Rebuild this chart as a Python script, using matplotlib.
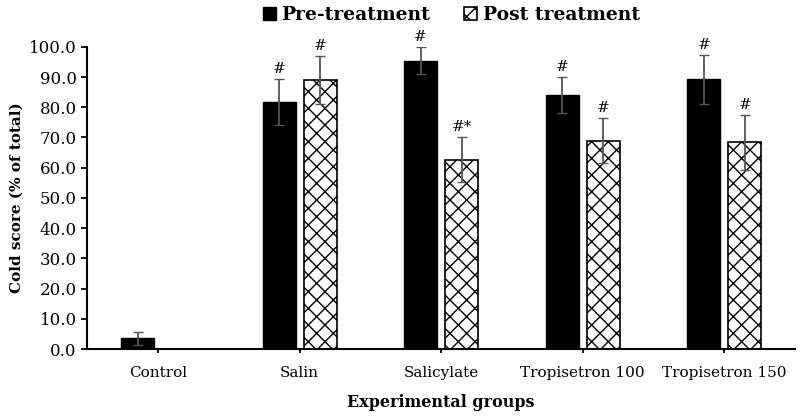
import matplotlib.pyplot as plt
import numpy as np

plt.rcParams['font.family'] = ['DejaVu Serif']

groups = ['Control', 'Salin', 'Salicylate', 'Tropisetron 100', 'Tropisetron 150']
pre = np.array([3.5, 81.7, 95.4, 84.0, 89.2])
pre_err = np.array([2.2, 7.5, 4.5, 6.0, 8.0])
post = np.array([0.0, 89.0, 62.7, 69.0, 68.4])
post_err = np.array([0.0, 8.0, 7.4, 7.4, 9.0])
pre_marks = ['', '#', '#', '#', '#']
post_marks = ['', '#', '#*', '#', '#']

fig = plt.figure(figsize=(8, 4.18), dpi=100)
ax = fig.add_axes([0.109, 0.165, 0.885, 0.723])

x = np.arange(len(groups))
w = 0.233
off = w / 2 + 0.028

b1 = ax.bar(x - off, pre, w, color='black', edgecolor='black', label='Pre-treatment')
b2 = ax.bar(x[1:] + off, post[1:], w, color='white', edgecolor='black', hatch='xx',
            linewidth=1.2, label='Post treatment')
ax.errorbar(x - off, pre, yerr=pre_err, fmt='none', ecolor='#555555', capsize=3.5, elinewidth=1.3)
ax.errorbar(x[1:] + off, post[1:], yerr=post_err[1:], fmt='none', ecolor='#555555',
            capsize=3.5, elinewidth=1.3)

for i in range(len(groups)):
    if pre_marks[i]:
        ax.text(x[i] - off, pre[i] + pre_err[i] + 1, pre_marks[i], ha='center', va='bottom', fontsize=11)
    if post_marks[i]:
        ax.text(x[i] + off, post[i] + post_err[i] + 1, post_marks[i], ha='center', va='bottom', fontsize=11)

ax.set_xlim(-0.5, 4.5)
ax.set_ylim(0, 100)
ax.set_yticks(np.arange(0, 101, 10))
ax.set_yticklabels([f'{v:.1f}' for v in np.arange(0, 101, 10)], fontsize=12)
ax.set_xticks(x)
ax.set_xticklabels(groups, fontsize=11)
ax.tick_params(axis='x', length=3, width=1.3, pad=9)
ax.tick_params(axis='y', length=4, width=1.3)
for s in ['top', 'right']:
    ax.spines[s].set_visible(False)
ax.spines['left'].set_linewidth(1.5)
ax.spines['bottom'].set_linewidth(1.5)

ax.set_ylabel('Cold score (% of total)', fontsize=11, fontweight='bold')
ax.set_xlabel('Experimental groups', fontsize=11.5, fontweight='bold', labelpad=10)

fig.legend(handles=[b1, b2], loc='upper center', bbox_to_anchor=(0.564, 1.025), ncol=2,
           frameon=False, prop={'weight': 'bold', 'size': 13.5}, handlelength=0.7,
           handleheight=0.7, columnspacing=1.8, handletextpad=0.3)

fig.savefig('out.png')
